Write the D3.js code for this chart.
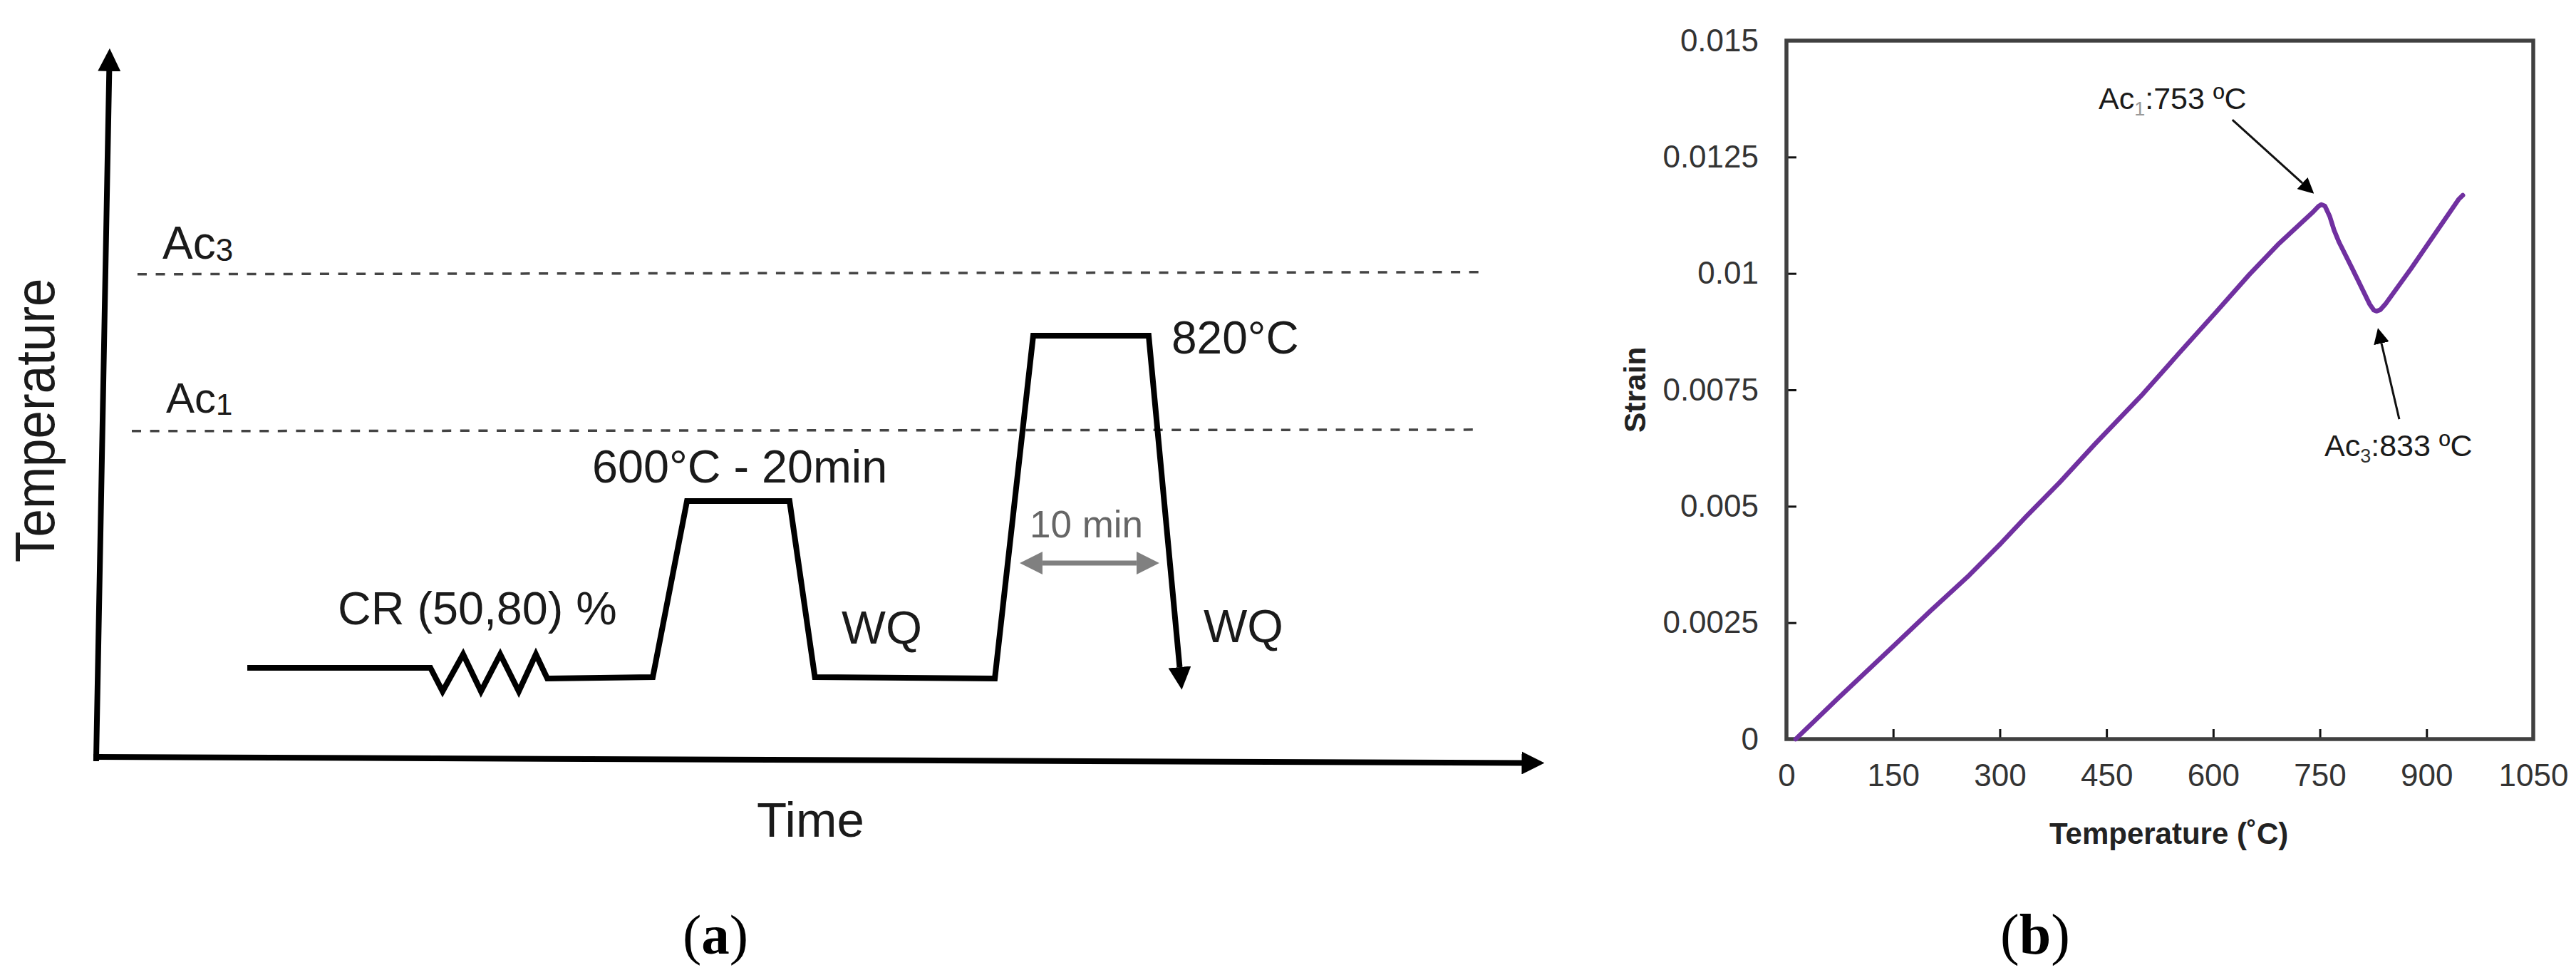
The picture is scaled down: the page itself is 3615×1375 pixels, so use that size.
<!DOCTYPE html>
<html>
<head>
<meta charset="utf-8">
<title>Heat treatment and dilatometry</title>
<script src="https://cdn.jsdelivr.net/npm/d3@7"></script>
<style>
    html, body { margin: 0; padding: 0; background: #fff; }
    svg { display: block; }
    text { font-family: "Liberation Sans", Arial, sans-serif; }
</style>
</head>
<body>
<div id="chart"></div>
<script>
// panel (a): schematic, time and temperature in percent of the axis length
var profile_time = [10.43, 23.07, 23.91, 25.33, 26.56, 27.89, 29.17, 30.35, 31.14, 38.42, 40.78, 47.86, 49.61, 62.03, 64.68, 72.65, 74.79];
var profile_temp = [12.75, 12.75, 9.44, 14.66, 9.44, 14.66, 9.44, 14.66, 11.24, 11.45, 36.24, 36.24, 11.45, 11.24, 59.54, 59.54, 12.85];
var ac3_time = [2.85, 95.97];
var ac3_temp = [68.2, 68.5];
var ac1_time = [2.46, 95.57];
var ac1_temp = [46.1, 46.3];
var hold_time = [65.32, 71.81];
var hold_temp = [27.51, 27.51];
var time_axis_time = [0, 98.4];
var time_axis_temp = [0.2, -0.65];
var temp_axis_time = [0, 0.9];
var temp_axis_temp = [0, 96.8];

// panel (b): dilatometry curve
var temperature = [13, 70, 150, 203, 257, 300, 337, 384, 434, 501, 551, 604, 651, 691, 741, 748, 752, 757, 764, 770, 777, 795, 820, 826, 830, 835, 842, 878, 945, 951];
var strain = [0, 0.00084, 0.00199, 0.00276, 0.00352, 0.00418, 0.00478, 0.00551, 0.00634, 0.00741, 0.00827, 0.00917, 0.00998, 0.01062, 0.01133, 0.01144, 0.01148, 0.01145, 0.01122, 0.01093, 0.01067, 0.01012, 0.00934, 0.00921, 0.00919, 0.00922, 0.00934, 0.0101, 0.01159, 0.01168];
var x_ticks = [0, 150, 300, 450, 600, 750, 900, 1050];
var y_ticks = [0, 0.0025, 0.005, 0.0075, 0.01, 0.0125, 0.015];
var y_tick_labels = ["0", "0.0025", "0.005", "0.0075", "0.01", "0.0125", "0.015"];
var ac1_arrow_x = [627, 725.4];
var ac1_arrow_y = [0.0133, 0.01194];
var ac3_arrow_x = [861.6, 836.6];
var ac3_arrow_y = [0.00687, 0.0085];

var chart_width = 3615;
var chart_height = 1375;

var svg = d3.select("#chart")
    .append("svg")
    .attr("width", chart_width)
    .attr("height", chart_height)
    .style("background", "#fff");

// Arrow heads
var defs = svg.append("defs");

function add_head(id, size, color) {
    defs.append("marker")
        .attr("id", id)
        .attr("markerUnits", "userSpaceOnUse")
        .attr("viewBox", "0 0 10 10")
        .attr("refX", 0)
        .attr("refY", 5)
        .attr("markerWidth", size)
        .attr("markerHeight", size)
        .attr("orient", "auto-start-reverse")
        .append("path")
        .attr("d", "M0,0L10,5L0,10Z")
        .attr("fill", color);
}
add_head("head_black", 32, "#000");
add_head("head_grey", 32, "#808080");
add_head("head_small", 22, "#000");

function label(x, y, str, size, color, weight) {
    return svg.append("text")
        .attr("x", x)
        .attr("y", y)
        .attr("font-size", size)
        .attr("fill", color || "#1a1a1a")
        .attr("font-weight", weight || "normal")
        .text(str);
}

// text with a lowered subscript in the middle
function sub_label(x, y, before, sub, after, size, sub_size, sub_color, sub_drop) {
    var t = svg.append("text")
        .attr("x", x)
        .attr("y", y)
        .attr("font-size", size)
        .attr("fill", "#1a1a1a");
    t.append("tspan").text(before);
    t.append("tspan")
        .attr("dy", sub_drop)
        .attr("font-size", sub_size)
        .attr("fill", sub_color)
        .text(sub);
    t.append("tspan")
        .attr("dy", -sub_drop)
        .text(after);
    return t;
}

// ---------- Panel (a) ----------
var t_scale = d3.scaleLinear().domain([0, 100]).range([135, 2168]);
var c_scale = d3.scaleLinear().domain([0, 100]).range([1064, 68]);

var a_line = d3.line()
    .x(function(d){ return t_scale(d[0]); })
    .y(function(d){ return c_scale(d[1]); });

function draw_a(times, temps) {
    return svg.append("path")
        .attr("d", a_line(d3.zip(times, temps)))
        .attr("fill", "none");
}

draw_a(ac3_time, ac3_temp)
    .attr("stroke", "#444")
    .attr("stroke-width", 3.5)
    .attr("stroke-dasharray", "13 12.6");
draw_a(ac1_time, ac1_temp)
    .attr("stroke", "#444")
    .attr("stroke-width", 3.5)
    .attr("stroke-dasharray", "13 12.6");

draw_a(temp_axis_time, temp_axis_temp)
    .attr("stroke", "#000")
    .attr("stroke-width", 8)
    .attr("stroke-linecap", "square")
    .attr("marker-end", "url(#head_black)");
draw_a(time_axis_time, time_axis_temp)
    .attr("stroke", "#000")
    .attr("stroke-width", 8)
    .attr("stroke-linecap", "square")
    .attr("marker-end", "url(#head_black)");

draw_a(profile_time, profile_temp)
    .attr("stroke", "#000")
    .attr("stroke-width", 8)
    .attr("stroke-linejoin", "miter")
    .attr("marker-end", "url(#head_black)");

draw_a(hold_time, hold_temp)
    .attr("stroke", "#808080")
    .attr("stroke-width", 7)
    .attr("marker-start", "url(#head_grey)")
    .attr("marker-end", "url(#head_grey)");

label(1445, 754, "10 min", 53, "#666");
label(1644, 496, "820°C", 64);
label(831, 677, "600°C - 20min", 64.7);
label(474, 876, "CR (50,80) %", 64.7);
label(1181, 903, "WQ", 65.6);
label(1689, 901, "WQ", 65);
label(1062, 1174, "Time", 69);
label(0, 0, "Temperature", 71)
    .attr("transform", "translate(76,789) rotate(-90) scale(1,1.1)");
sub_label(228, 363, "Ac", "3", "", 64, 44, "#1a1a1a", 3);
sub_label(233, 579, "Ac", "1", "", 60, 42, "#1a1a1a", 3);

function caption(x, open_str, bold_str, close_str, size) {
    var t = svg.append("text")
        .attr("x", x)
        .attr("y", 1338)
        .attr("font-size", size)
        .attr("fill", "#000")
        .style("font-family", "'Liberation Serif', 'Times New Roman', serif");
    t.append("tspan").text(open_str);
    t.append("tspan").attr("font-weight", "bold").text(bold_str);
    t.append("tspan").text(close_str);
}
caption(958, "(", "a", ")", 79);
caption(2807, "(", "b", ")", 80);

// ---------- Panel (b) ----------
var frame = { left: 2507, right: 3555, top: 57, bottom: 1037 };

var x_scale = d3.scaleLinear().domain([0, 1050]).range([frame.left, frame.right]);
var y_scale = d3.scaleLinear().domain([0, 0.015]).range([frame.bottom, frame.top]);

var x_axis = d3.axisBottom(x_scale)
    .tickValues(x_ticks)
    .tickSizeInner(-14)
    .tickSizeOuter(0)
    .tickPadding(0)
    .tickFormat(d3.format("d"));

var y_axis = d3.axisLeft(y_scale)
    .tickValues(y_ticks)
    .tickSizeInner(-14)
    .tickSizeOuter(0)
    .tickPadding(39)
    .tickFormat(function(d, i){ return y_tick_labels[i]; });

var x_group = svg.append("g")
    .attr("transform", "translate(0," + frame.bottom + ")")
    .call(x_axis);
var y_group = svg.append("g")
    .attr("transform", "translate(" + frame.left + ",0)")
    .call(y_axis);

[x_group, y_group].forEach(function(g){
    g.select(".domain").remove();
    g.selectAll(".tick line").attr("stroke", "#111").attr("stroke-width", 3);
    g.selectAll(".tick text")
        .attr("font-size", 44)
        .attr("fill", "#333")
        .style("font-family", "'Liberation Sans', Arial, sans-serif");
});
x_group.selectAll(".tick text")
    .attr("dy", 0)
    .attr("y", 66);

svg.append("rect")
    .attr("x", frame.left)
    .attr("y", frame.top)
    .attr("width", frame.right - frame.left)
    .attr("height", frame.bottom - frame.top)
    .attr("fill", "none")
    .attr("stroke", "#404040")
    .attr("stroke-width", 5.5);

svg.append("path")
    .attr("d", d3.line()
        .x(function(d){ return x_scale(d[0]); })
        .y(function(d){ return y_scale(d[1]); })(d3.zip(temperature, strain)))
    .attr("fill", "none")
    .attr("stroke", "#7030a0")
    .attr("stroke-width", 6.5)
    .attr("stroke-linejoin", "round")
    .attr("stroke-linecap", "round");

function draw_b_arrow(xs, ys) {
    svg.append("path")
        .attr("d", d3.line()
            .x(function(d){ return x_scale(d[0]); })
            .y(function(d){ return y_scale(d[1]); })(d3.zip(xs, ys)))
        .attr("fill", "none")
        .attr("stroke", "#111")
        .attr("stroke-width", 3)
        .attr("marker-end", "url(#head_small)");
}
draw_b_arrow(ac1_arrow_x, ac1_arrow_y);
draw_b_arrow(ac3_arrow_x, ac3_arrow_y);

sub_label(2945, 153, "Ac", "1", ":753 ºC", 43, 27, "#999", 9);
sub_label(3262, 640, "Ac", "3", ":833 ºC", 43, 27, "#333", 9);

label(2876, 1184, "Temperature (˚C)", 42, "#222", "bold");
label(0, 0, "Strain", 42.5, "#222", "bold")
    .attr("transform", "translate(2309,607) rotate(-90)");
</script>
</body>
</html>
